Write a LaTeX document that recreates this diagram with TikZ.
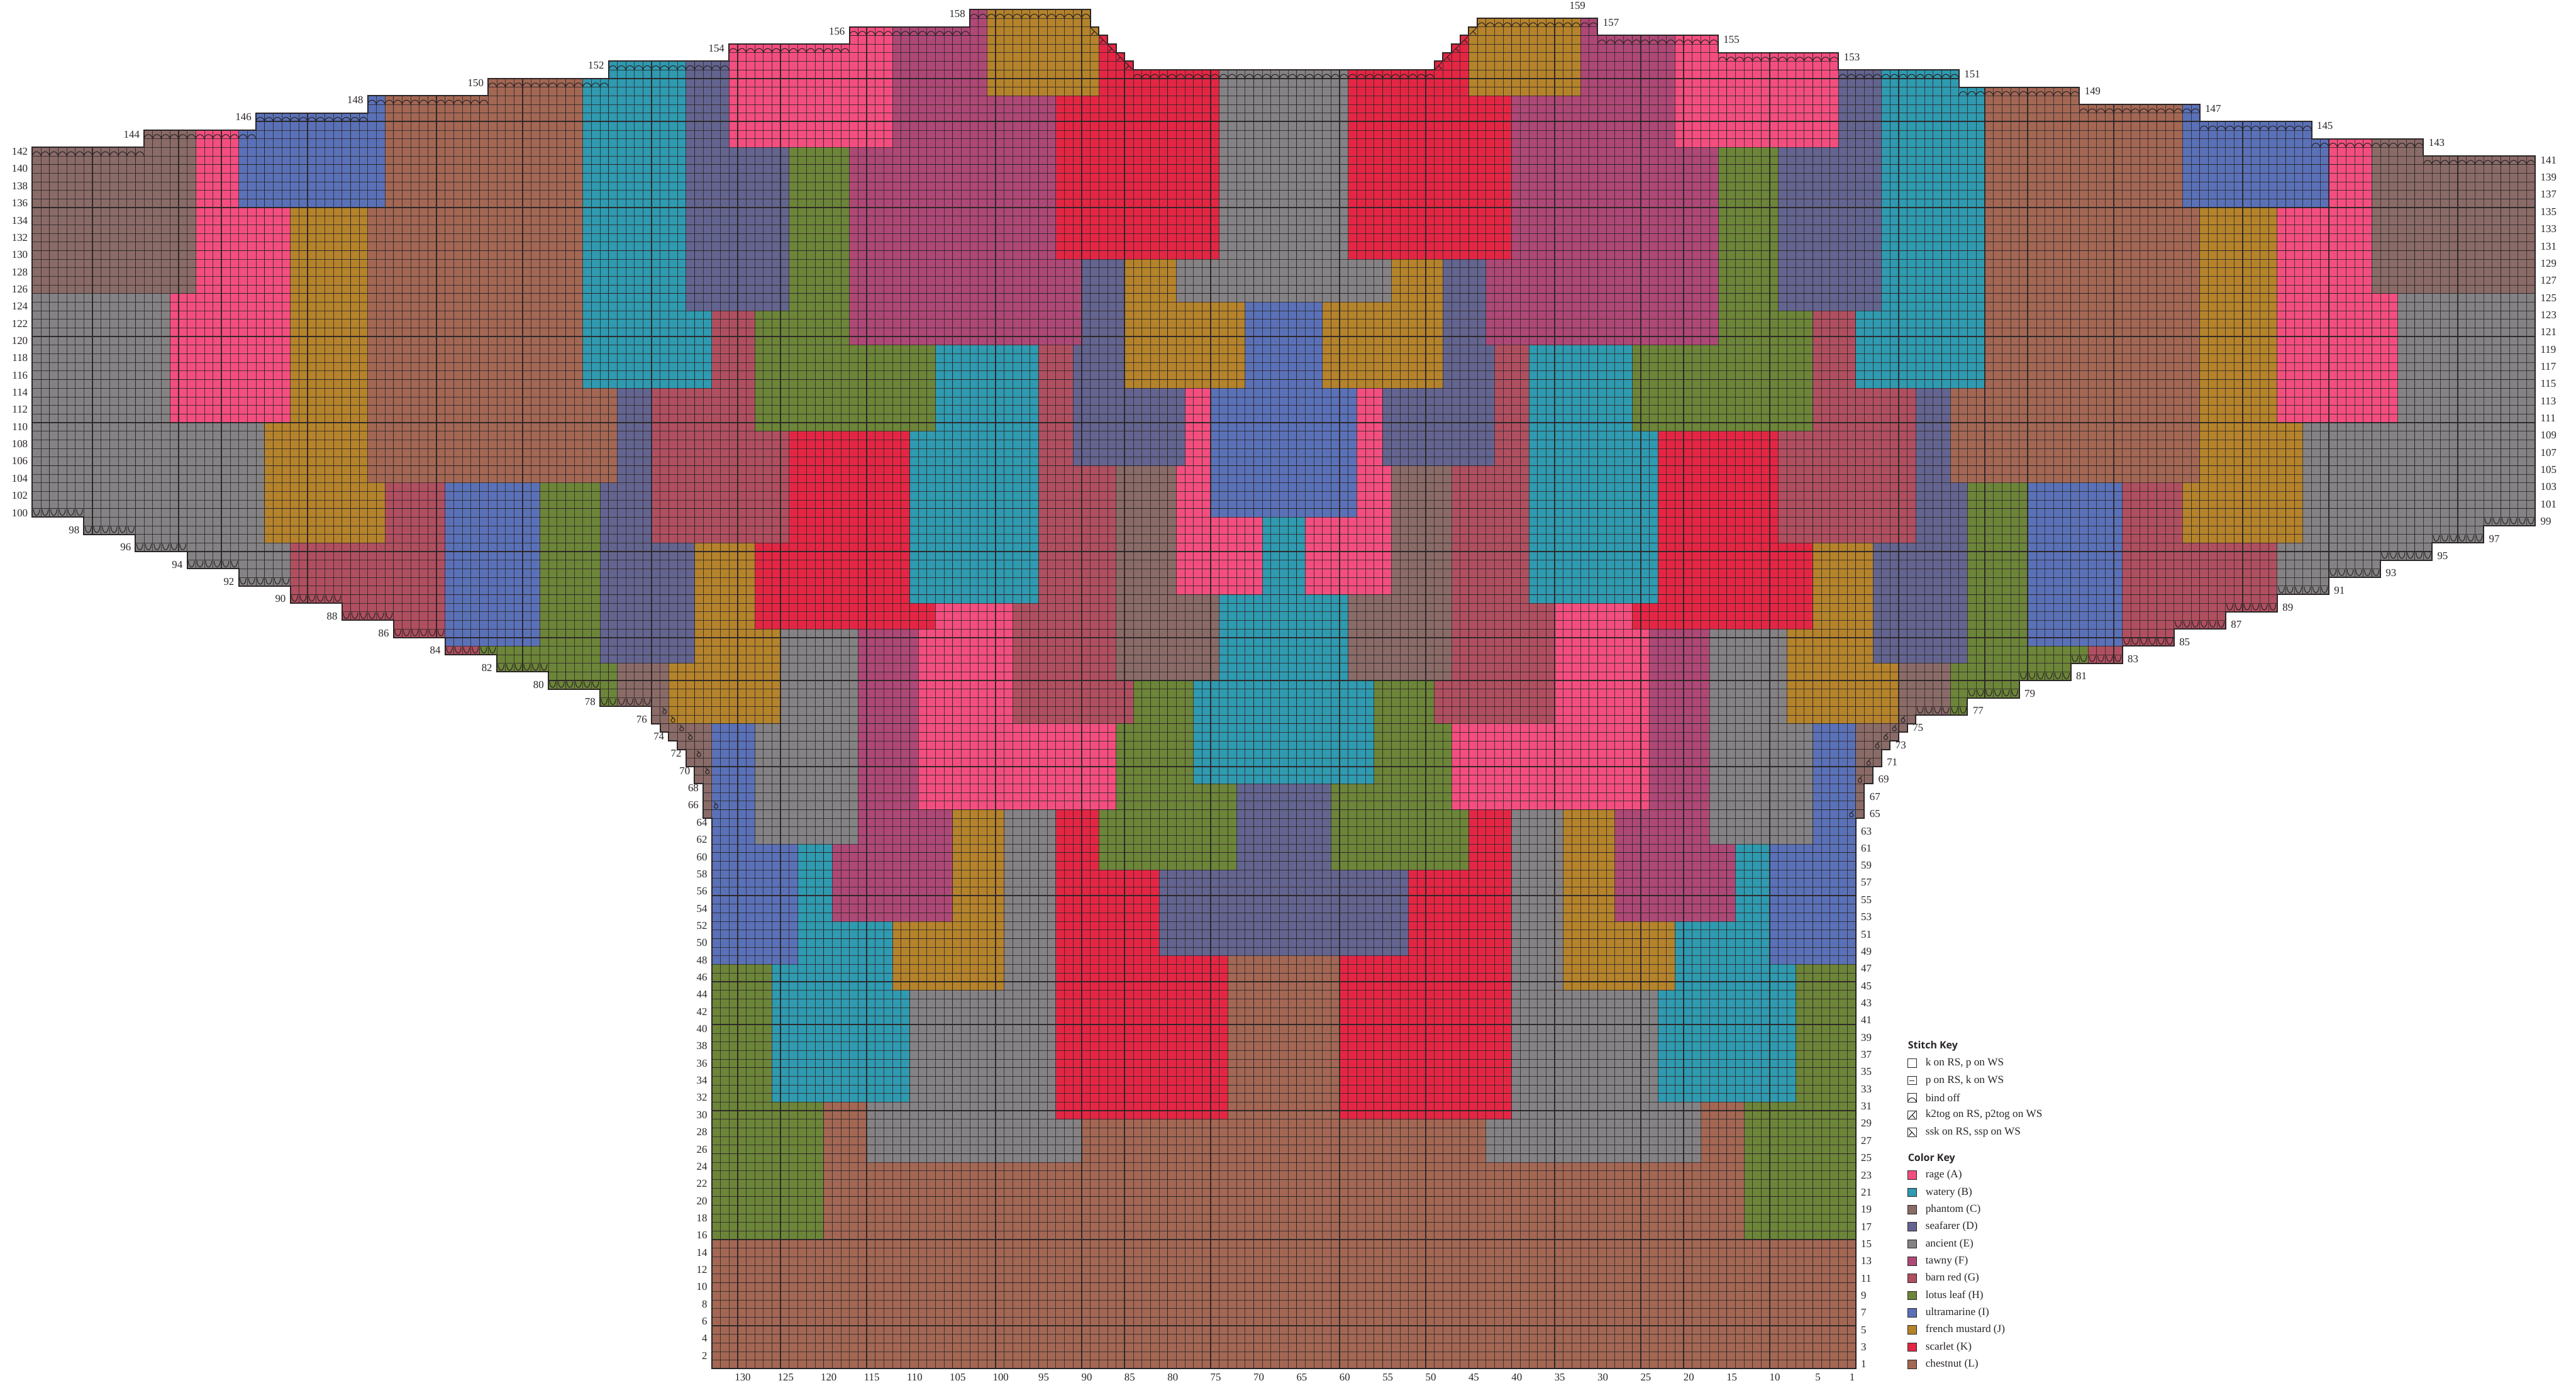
\documentclass[tikz,border=0pt]{standalone}
\usepackage{fontspec}
\setmainfont{Liberation Serif}
\newfontfamily\keyhead{Open Sans}
\definecolor{rage}{HTML}{F34E7F}
\definecolor{watery}{HTML}{2F9AB0}
\definecolor{phantom}{HTML}{8A6B68}
\definecolor{seafarer}{HTML}{63648F}
\definecolor{ancient}{HTML}{848284}
\definecolor{tawny}{HTML}{AE4876}
\definecolor{barnred}{HTML}{B04F60}
\definecolor{lotus}{HTML}{6C8539}
\definecolor{ultra}{HTML}{5A71B8}
\definecolor{mustard}{HTML}{B5832B}
\definecolor{scarlet}{HTML}{E42644}
\definecolor{chestnut}{HTML}{A36754}
\definecolor{ink}{HTML}{2A2526}
\tikzset{
  thingrid/.style={draw=ink,line width=0.38pt,opacity=0.8},
  thickgrid/.style={draw=ink,line width=0.8pt,opacity=0.9},
  rim/.style={draw=ink,line width=1.1pt,line join=miter},
  sym/.style={draw=ink,line width=0.6pt},
  numl/.style={font=\fontsize{9.3}{10}\selectfont,text=ink,inner sep=0pt,anchor=east},
  numr/.style={font=\fontsize{9.3}{10}\selectfont,text=ink,inner sep=0pt,anchor=west},
  numc/.style={font=\fontsize{9.3}{10}\selectfont,text=ink,inner sep=0pt,anchor=center},
  keytext/.style={font=\fontsize{9.5}{10}\selectfont,text=ink,inner sep=0pt,anchor=west},
  keytitle/.style={font=\keyhead\bfseries\fontsize{8.8}{10}\selectfont,text=ink,inner sep=0pt,anchor=west},
  swatch/.style={draw=ink,line width=0.5pt}
}
\newcommand\pat[5]{\fill[#1] (#2,#4) rectangle (#3,#5); \fill[#1] ({291-#2},#4) rectangle ({291-#3},#5);}
\newcommand\arcmark[2]{\draw[sym] (#1,#2-1) .. controls (#1+.15,#2-.35) and (#1+.85,#2-.35) .. (#1+1,#2-1);}
\newcommand\bindoffrow[3]{\pgfmathtruncatemacro\uend{#2-1}\foreach \uu in {#1,...,\uend}{\arcmark{\uu}{#3}}}
\newcommand\cuprow[3]{\pgfmathtruncatemacro\uend{#2-1}\foreach \uu in {#1,...,\uend}{\draw[sym] (\uu+.14,#3-.1) .. controls (\uu+.2,#3-1.02) and (\uu+.8,#3-1.02) .. (\uu+.86,#3-.1);}}
\newcommand\sskmark[2]{\draw[sym] (#1+.1,#2-.1) -- (#1+.88,#2-.92) (#1+.5,#2-.5) -- (#1+.12,#2-.92);}
\newcommand\ktogmark[2]{\draw[sym] (#1+.9,#2-.1) -- (#1+.12,#2-.92) (#1+.5,#2-.5) -- (#1+.88,#2-.92);}
\newcommand\loopl[2]{\draw[sym] (#1+.28,#2-.14) .. controls (#1+.45,#2-.3) and (#1+.75,#2-.45) .. (#1+.72,#2-.65) .. controls (#1+.7,#2-.92) and (#1+.3,#2-.92) .. (#1+.27,#2-.65) .. controls (#1+.27,#2-.45) and (#1+.45,#2-.38) .. (#1+.58,#2-.35);}
\newcommand\loopr[2]{\draw[sym] (#1+.72,#2-.14) .. controls (#1+.55,#2-.3) and (#1+.25,#2-.45) .. (#1+.28,#2-.65) .. controls (#1+.3,#2-.92) and (#1+.7,#2-.92) .. (#1+.73,#2-.65) .. controls (#1+.73,#2-.45) and (#1+.55,#2-.38) .. (#1+.42,#2-.35);}
\def\chartoutline{(0,142) -- (13,142) -- (13,144) -- (26,144) -- (26,146) -- (39,146) -- (39,148) -- (53,148) -- (53,150) -- (67,150) -- (67,152) -- (81,152) -- (81,154) -- (95,154) -- (95,156) -- (109,156) -- (109,158) -- (123,158) -- (123,156) -- (124,156) -- (124,155) -- (125,155) -- (125,154) -- (126,154) -- (126,153) -- (127,153) -- (127,152) -- (128,152) -- (128,151) -- (163,151) -- (163,152) -- (164,152) -- (164,153) -- (165,153) -- (165,154) -- (166,154) -- (166,155) -- (167,155) -- (167,156) -- (168,156) -- (168,157) -- (182,157) -- (182,155) -- (196,155) -- (196,153) -- (210,153) -- (210,151) -- (224,151) -- (224,149) -- (238,149) -- (238,147) -- (252,147) -- (252,145) -- (265,145) -- (265,143) -- (278,143) -- (278,141) -- (291,141) -- (291,98) -- (285,98) -- (285,96) -- (279,96) -- (279,94) -- (273,94) -- (273,92) -- (267,92) -- (267,90) -- (261,90) -- (261,88) -- (255,88) -- (255,86) -- (249,86) -- (249,84) -- (243,84) -- (243,82) -- (237,82) -- (237,80) -- (231,80) -- (231,78) -- (225,78) -- (225,76) -- (219,76) -- (219,75) -- (218,75) -- (218,74) -- (217,74) -- (217,73) -- (216,73) -- (216,72) -- (215,72) -- (215,70) -- (214,70) -- (214,68) -- (213,68) -- (213,64) -- (212,64) -- (212,0) -- (79,0) -- (79,64) -- (78,64) -- (78,68) -- (77,68) -- (77,70) -- (76,70) -- (76,72) -- (75,72) -- (75,73) -- (74,73) -- (74,74) -- (73,74) -- (73,75) -- (72,75) -- (72,77) -- (66,77) -- (66,79) -- (60,79) -- (60,81) -- (54,81) -- (54,83) -- (48,83) -- (48,85) -- (42,85) -- (42,87) -- (36,87) -- (36,89) -- (30,89) -- (30,91) -- (24,91) -- (24,93) -- (18,93) -- (18,95) -- (12,95) -- (12,97) -- (6,97) -- (6,99) -- (0,99) -- cycle}
\begin{document}
\begin{tikzpicture}[x=0.265cm,y=0.265cm]
\fill[white] (-3.7547,-2.2264) rectangle (295.75,159.13);
\useasboundingbox (-3.7547,-2.2264) rectangle (295.75,159.13);
\begin{scope}
\clip \chartoutline;
% colour patches of the left half, each mirrored to the right
\pat{phantom}{0}{19}{125}{170}
\pat{rage}{19}{24}{135}{170}\pat{rage}{19}{30}{125}{135}\pat{rage}{16}{30}{110}{125}
\pat{ultra}{24}{41}{135}{170}
\pat{mustard}{30}{39}{110}{135}\pat{mustard}{27}{39}{103}{110}\pat{mustard}{27}{41}{96}{103}
\pat{chestnut}{41}{64}{135}{170}\pat{chestnut}{39}{64}{114}{135}\pat{chestnut}{39}{68}{103}{114}
\pat{ancient}{0}{16}{110}{125}\pat{ancient}{0}{27}{96}{110}\pat{ancient}{0}{30}{60}{96}
\pat{barnred}{30}{41}{60}{96}\pat{barnred}{41}{48}{60}{103}\pat{barnred}{48}{52}{60}{84}
\pat{ultra}{48}{59}{84}{103}
\pat{lotus}{59}{66}{84}{103}\pat{lotus}{52}{66}{60}{84}\pat{lotus}{66}{68}{60}{82}
\pat{seafarer}{68}{72}{103}{114}\pat{seafarer}{66}{72}{96}{103}\pat{seafarer}{66}{77}{82}{96}
\pat{phantom}{68}{74}{75}{82}\pat{phantom}{68}{79}{50}{75}
\pat{mustard}{74}{87}{75}{82}\pat{mustard}{77}{87}{82}{86}\pat{mustard}{77}{84}{86}{96}
\pat{barnred}{72}{84}{109}{114}\pat{barnred}{72}{88}{96}{109}\pat{barnred}{79}{84}{114}{123}
\pat{watery}{64}{76}{123}{170}\pat{watery}{64}{79}{114}{123}
\pat{seafarer}{76}{81}{142}{170}\pat{seafarer}{76}{88}{123}{142}
\pat{rage}{81}{100}{142}{170}
\pat{tawny}{100}{111}{148}{170}\pat{tawny}{100}{119}{142}{148}\pat{tawny}{95}{119}{129}{142}\pat{tawny}{95}{122}{119}{129}
\pat{lotus}{88}{95}{123}{142}\pat{lotus}{84}{95}{119}{123}\pat{lotus}{84}{105}{109}{119}
\pat{mustard}{111}{124}{148}{170}
\pat{scarlet}{119}{124}{129}{148}\pat{scarlet}{124}{138}{129}{170}
\pat{ancient}{138}{146}{129}{170}
\pat{seafarer}{122}{127}{119}{129}\pat{seafarer}{121}{127}{114}{119}\pat{seafarer}{121}{134}{105}{114}
\pat{mustard}{127}{133}{124}{129}\pat{mustard}{127}{141}{114}{124}
\pat{ancient}{133}{146}{124}{129}
\pat{ultra}{141}{146}{114}{124}\pat{ultra}{137}{146}{99}{114}
\pat{rage}{134}{137}{105}{114}\pat{rage}{133}{137}{99}{105}\pat{rage}{133}{143}{90}{99}
\pat{watery}{143}{146}{90}{99}\pat{watery}{138}{146}{80}{90}\pat{watery}{135}{146}{68}{80}
\pat{phantom}{126}{133}{90}{105}\pat{phantom}{126}{138}{80}{90}
\pat{watery}{105}{117}{109}{119}\pat{watery}{102}{117}{89}{109}
\pat{barnred}{117}{121}{105}{119}\pat{barnred}{117}{126}{89}{105}\pat{barnred}{114}{126}{80}{89}\pat{barnred}{114}{128}{75}{80}
\pat{scarlet}{88}{102}{96}{109}\pat{scarlet}{84}{102}{86}{96}\pat{scarlet}{102}{105}{86}{89}
\pat{rage}{105}{114}{86}{89}\pat{rage}{103}{114}{75}{86}\pat{rage}{103}{126}{65}{75}
\pat{ancient}{87}{96}{75}{86}\pat{ancient}{84}{96}{61}{75}
\pat{tawny}{96}{103}{65}{86}\pat{tawny}{96}{107}{61}{65}\pat{tawny}{93}{107}{52}{61}
\pat{lotus}{128}{135}{75}{80}\pat{lotus}{126}{135}{68}{75}\pat{lotus}{126}{140}{65}{68}\pat{lotus}{124}{140}{58}{65}
\pat{seafarer}{140}{146}{58}{68}\pat{seafarer}{131}{146}{48}{58}
\pat{ultra}{79}{84}{61}{75}\pat{ultra}{79}{89}{47}{61}
\pat{watery}{89}{93}{52}{61}\pat{watery}{89}{100}{47}{52}\pat{watery}{86}{100}{44}{47}\pat{watery}{86}{102}{31}{44}
\pat{mustard}{107}{113}{52}{65}\pat{mustard}{100}{113}{44}{52}
\pat{ancient}{113}{119}{44}{65}\pat{ancient}{102}{119}{31}{44}\pat{ancient}{97}{119}{29}{31}\pat{ancient}{97}{122}{24}{29}
\pat{scarlet}{119}{124}{58}{65}\pat{scarlet}{119}{131}{48}{58}\pat{scarlet}{119}{139}{29}{48}
\pat{chestnut}{139}{146}{29}{48}\pat{chestnut}{122}{146}{15}{29}\pat{chestnut}{97}{122}{15}{24}\pat{chestnut}{92}{97}{15}{31}\pat{chestnut}{79}{146}{0}{15}
\pat{lotus}{79}{86}{31}{47}\pat{lotus}{79}{92}{15}{31}
% grid
\foreach \gu in {0,...,291} {\draw[thingrid] (\gu,0) -- (\gu,160);}
\foreach \gr in {1,...,159} {\draw[thingrid] (0,\gr) -- (291,\gr);}
\foreach \gu in {2,7,...,287} {\draw[thickgrid] (\gu,0) -- (\gu,160);}
\foreach \gr in {5,10,...,155} {\draw[thickgrid] (0,\gr) -- (291,\gr);}
\end{scope}
\draw[rim] \chartoutline;
% bind-off arcs along the upper edge
\bindoffrow{0}{13}{142}\bindoffrow{13}{26}{144}\bindoffrow{26}{39}{146}\bindoffrow{39}{53}{148}\bindoffrow{53}{67}{150}\bindoffrow{67}{81}{152}\bindoffrow{81}{95}{154}\bindoffrow{95}{109}{156}\bindoffrow{109}{123}{158}
\bindoffrow{128}{163}{151}
\bindoffrow{168}{182}{157}\bindoffrow{182}{196}{155}\bindoffrow{196}{210}{153}\bindoffrow{210}{224}{151}\bindoffrow{224}{238}{149}\bindoffrow{238}{252}{147}\bindoffrow{252}{265}{145}\bindoffrow{265}{278}{143}\bindoffrow{278}{291}{141}
% bind-off cups along the lower edge
\foreach \ka in {0,...,11} {
  \pgfmathtruncatemacro\ua{6*\ka}\pgfmathtruncatemacro\ub{6*\ka+6}\pgfmathtruncatemacro\ra{100-2*\ka}
  \cuprow{\ua}{\ub}{\ra}
  \pgfmathtruncatemacro\uc{291-6*\ka-6}\pgfmathtruncatemacro\ud{291-6*\ka}\pgfmathtruncatemacro\rb{99-2*\ka}
  \cuprow{\uc}{\ud}{\rb}
}
% neck decreases
\sskmark{123}{156}\sskmark{124}{155}\sskmark{125}{154}\sskmark{126}{153}\sskmark{127}{152}
\ktogmark{167}{156}\ktogmark{166}{155}\ktogmark{165}{154}\ktogmark{164}{153}\ktogmark{163}{152}
% loops near the underarm
\loopl{73}{77}\loopl{74}{76}\loopl{75}{75}\loopl{76}{74}\loopl{77}{72}\loopl{78}{70}\loopl{79}{66}
\loopr{217}{76}\loopr{216}{75}\loopr{215}{74}\loopr{214}{73}\loopr{213}{71}\loopr{212}{69}\loopr{211}{65}
% row numbers
\foreach \rw/\ed in {2/79,4/79,6/79,8/79,10/79,12/79,14/79,16/79,18/79,20/79,22/79,24/79,26/79,28/79,30/79,32/79,34/79,36/79,38/79,40/79,42/79,44/79,46/79,48/79,50/79,52/79,54/79,56/79,58/79,60/79,62/79,64/79,66/78,68/78,70/77,72/76,74/74,76/72,78/66,80/60,82/54,84/48,86/42,88/36,90/30,92/24,94/18,96/12,98/6,100/0,102/0,104/0,106/0,108/0,110/0,112/0,114/0,116/0,118/0,120/0,122/0,124/0,126/0,128/0,130/0,132/0,134/0,136/0,138/0,140/0,142/0,144/13,146/26,148/39,150/53,152/67,154/81,156/95,158/109}
  {\node[numl] (rowl\rw) at (\ed-.5,\rw-.5) {\rw};}
\foreach \rw/\ed in {1/212,3/212,5/212,7/212,9/212,11/212,13/212,15/212,17/212,19/212,21/212,23/212,25/212,27/212,29/212,31/212,33/212,35/212,37/212,39/212,41/212,43/212,45/212,47/212,49/212,51/212,53/212,55/212,57/212,59/212,61/212,63/212,65/213,67/213,69/214,71/215,73/216,75/218,77/225,79/231,81/237,83/243,85/249,87/255,89/261,91/267,93/273,95/279,97/285,99/291,101/291,103/291,105/291,107/291,109/291,111/291,113/291,115/291,117/291,119/291,121/291,123/291,125/291,127/291,129/291,131/291,133/291,135/291,137/291,139/291,141/291,143/278,145/265,147/252,149/238,151/224,153/210,155/196,157/182}
  {\node[numr] (rowr\rw) at (\ed+.6,\rw-.5) {\rw};}
\node[numr] (rowr159) at (178.7,158.45) {159};
% column numbers
\foreach \cl in {130,125,...,5,1} {\node[numc] (col\cl) at (212.6-\cl,-1.02) {\cl};}
% stitch key
\node[keytitle] (stitchkey) at (218.05,37.47) {Stitch Key};
\foreach \ky/\tx in {35/{k on RS, p on WS},33/{p on RS, k on WS},31/{bind off},29/{k2tog on RS, p2tog on WS},27/{ssk on RS, ssp on WS}} {
  \draw[swatch,fill=white] (218.05,\ky) rectangle (219.05,\ky+1);
  \node[keytext] (stitch\ky) at (220.1,\ky+.5) {\tx};
}
\draw[sym] (218.25,33.5) -- (218.85,33.5);
\arcmark{218.05}{32}
\sskmark{218.05}{28}
\ktogmark{218.05}{30}
% colour key
\node[keytitle] (colorkey) at (218.05,24.45) {Color Key};
\foreach \ky/\cc/\tx in {22/rage/rage (A),20/watery/watery (B),18/phantom/phantom (C),16/seafarer/seafarer (D),14/ancient/ancient (E),12/tawny/tawny (F),10/barnred/barn red (G),8/lotus/lotus leaf (H),6/ultra/ultramarine (I),4/mustard/french mustard (J),2/scarlet/scarlet (K),0/chestnut/chestnut (L)} {
  \draw[swatch,fill=\cc] (218.05,\ky) rectangle (219.05,\ky+1);
  \node[keytext] (color\ky) at (220.1,\ky+.5) {\tx};
}
\end{tikzpicture}
\end{document}
